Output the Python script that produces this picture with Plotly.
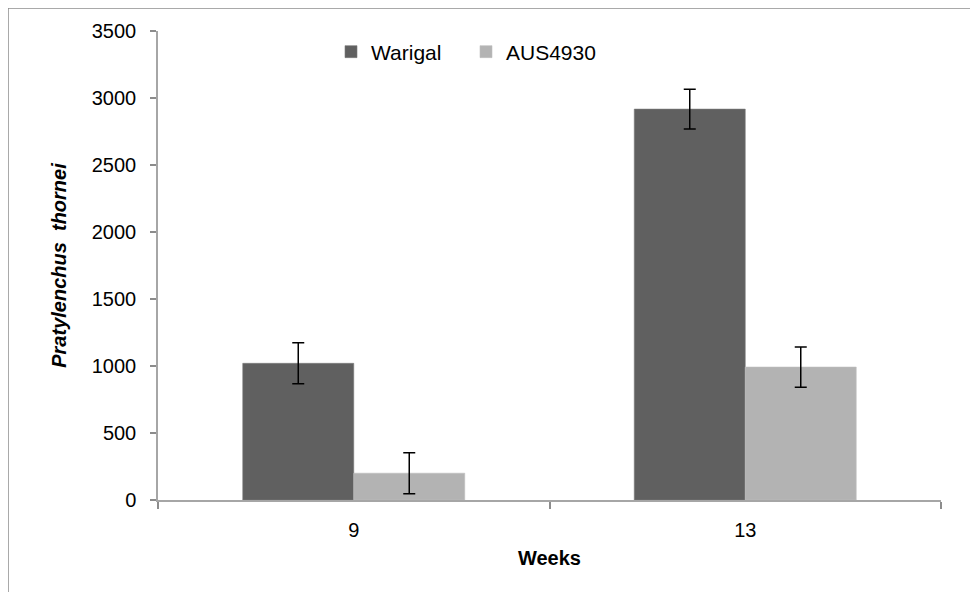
import plotly.graph_objects as go

weeks = ["9", "13"]
warigal = [1020, 2917]
warigal_err = [153, 148]
aus4930 = [200, 992]
aus4930_err = [153, 150]
y_ticks = [0, 500, 1000, 1500, 2000, 2500, 3000, 3500]

# the page body adds an 8px margin, so the figure is 8px smaller
W, H = 970, 584
L, R, T, B = 150, 37, 23, 92
pw, ph = W - L - R, H - T - B

def px_x(px):
    return (px - L) / pw

def px_y(py):
    return (H - B - py) / ph

fig = go.Figure()
fig.add_trace(go.Bar(
    name="Warigal", x=weeks, y=warigal,
    marker=dict(color="#606060", line=dict(color="#7a7a7a", width=0.6)),
    error_y=dict(type="data", array=warigal_err, color="#000000", thickness=1.5, width=6),
))
fig.add_trace(go.Bar(
    name="AUS4930", x=weeks, y=aus4930,
    marker=dict(color="#b3b3b3", line=dict(color="#c0c0c0", width=0.6)),
    error_y=dict(type="data", array=aus4930_err, color="#000000", thickness=1.5, width=6),
))

font_family = "Liberation Sans, Arial, sans-serif"
fig.update_layout(
    width=W, height=H,
    margin=dict(l=L, r=R, t=T, b=B, pad=0),
    paper_bgcolor="white", plot_bgcolor="white",
    barmode="group", bargap=0.433, bargroupgap=0,
    font=dict(family=font_family, size=20, color="#000000"),
    showlegend=True,
    legend=dict(
        orientation="h", x=px_x(323), y=px_y(44), xanchor="left", yanchor="middle",
        font=dict(size=21, color="#000000"), bgcolor="rgba(0,0,0,0)",
        itemwidth=30, entrywidth=90, entrywidthmode="pixels",
    ),
    xaxis=dict(
        type="category", showline=True, linecolor="#a6a6a6", linewidth=1.5,
        ticks="outside", tickson="boundaries", ticklen=7, tickcolor="#8c8c8c", tickwidth=1.5,
        showgrid=False, zeroline=False, ticklabelstandoff=11,
        title=dict(text="<b>Weeks</b>", font=dict(size=20), standoff=11),
    ),
    yaxis=dict(
        range=[0, 3500], tickvals=y_ticks, showline=True, linecolor="#a6a6a6", linewidth=1.5,
        ticks="outside", ticklen=6, tickcolor="#8c8c8c", tickwidth=1.5,
        showgrid=False, zeroline=False, ticklabelstandoff=10,
        title=dict(text="<b><i>Pratylenchus  thornei</i></b>", font=dict(size=20), standoff=20),
    ),
    shapes=[
        dict(type="line", xref="paper", yref="paper", x0=px_x(0), x1=px_x(0), y0=px_y(0), y1=px_y(600),
             line=dict(color="#8c8c8c", width=1.5)),
        dict(type="line", xref="paper", yref="paper", x0=px_x(0), x1=px_x(990), y0=px_y(0), y1=px_y(0),
             line=dict(color="#8c8c8c", width=1.5)),
    ],
)

fig.write_html("out.html")
